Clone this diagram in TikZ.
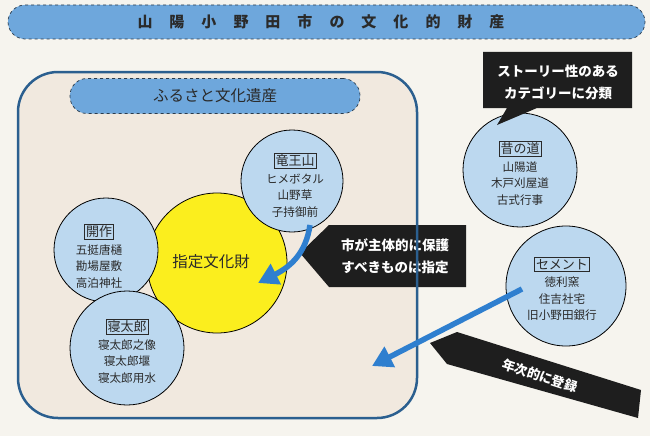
\documentclass[tikz,border=0pt]{standalone}
\usepackage{fontspec}
\setmainfont{Noto Sans CJK JP}
\usetikzlibrary{arrows.meta}
\definecolor{paper}{HTML}{F6F4EE}
\definecolor{boxfill}{HTML}{F1E9DF}
\definecolor{boxline}{HTML}{2B5F8F}
\definecolor{banner}{HTML}{6EA7DC}
\definecolor{bannerline}{HTML}{2A3B4C}
\definecolor{circfill}{HTML}{BCD8EF}
\definecolor{yel}{HTML}{FBEE1E}
\definecolor{callout}{HTML}{1E1E1E}
\definecolor{arrowblue}{HTML}{2F7FCF}
\definecolor{ink}{HTML}{2A2A2A}
\tikzset{
  bannerbox/.style={draw=bannerline, dashed, line width=0.7pt, fill=banner, rounded corners=17pt, inner sep=0pt},
  circ/.style={circle, draw=black, line width=0.8pt, fill=circfill, inner sep=0pt},
  circtext/.style={align=center, text=ink, font=\fontsize{11.6}{16.5}\selectfont, inner sep=0pt},
  calloutshape/.style={fill=callout},
  callouttext/.style={align=center, text=white, font=\bfseries\fontsize{13.5}{22}\selectfont, inner sep=0pt},
  barrow/.style={draw=arrowblue, line width=5.5pt, -{Triangle[length=20pt,width=22pt]}},
}
\newcommand{\hdrbox}[1]{\tikz[baseline=(h.base)]\node[draw=ink, line width=0.6pt, inner sep=1.5pt, font=\fontsize{13}{14}\selectfont] (h) {#1};}
\begin{document}
\begin{tikzpicture}[x=1pt,y=-1pt]
\useasboundingbox (0,0) rectangle (650,436);
\fill[paper] (0,0) rectangle (650,436);
% title
\node[bannerbox, minimum width=637pt, minimum height=34pt] (title) at (326.5,22) {};
\node[text=ink, font=\bfseries\fontsize{15}{16}\selectfont] (titletext) at (321,22)
  {山\hspace{17pt}陽\hspace{17pt}小\hspace{17pt}野\hspace{17pt}田\hspace{17pt}市\hspace{17pt}の\hspace{17pt}文\hspace{17pt}化\hspace{17pt}的\hspace{17pt}財\hspace{17pt}産};
% main box
\path[fill=boxfill, rounded corners=40pt] (18,72) rectangle (417,418);
\node[bannerbox, minimum width=290pt, minimum height=35pt] (sub) at (215,96) {};
\node[text=ink, font=\fontsize{15.5}{16}\selectfont] (subtext) at (215,96) {ふるさと文化遺産};
% yellow circle
\node[circle, draw=black, line width=0.8pt, fill=yel, minimum size=140pt] (yc) at (217,263) {};
\node[text=ink, font=\fontsize{15.5}{16}\selectfont] (yctext) at (211,262) {指定文化財};
% blue circles inside
\node[circ, minimum size=104pt] (kai) at (106,250) {};
\node[circtext] (kait) at (99,256) {\hdrbox{開作}\\[1pt]五挺唐樋\\勘場屋敷\\高泊神社};
\node[circ, minimum size=114pt] (net) at (127,348) {};
\node[circtext] (nett) at (127,351) {\hdrbox{寝太郎}\\[1pt]寝太郎之像\\寝太郎堰\\寝太郎用水};
\node[circ, minimum size=102pt] (ryu) at (292,181) {};
\node[circtext] (ryut) at (295,185) {\hdrbox{竜王山}\\[1pt]ヒメボタル\\山野草\\子持御前};
% callout 2
\fill[calloutshape] (300,253) -- (329,225) -- (466,225) -- (466,287) -- (329,287) -- cycle;
\node[callouttext] (c2t) at (395,256) {市が主体的に保護\\すべきものは指定};
% main box border
\draw[boxline, line width=2.5pt, rounded corners=40pt] (18,72) rectangle (417,418);
% right circles
\node[circ, minimum size=114pt] (muk) at (520,170) {};
\node[circtext] (mukt) at (520,173) {\hdrbox{昔の道}\\[1pt]山陽道\\木戸刈屋道\\古式行事};
\node[circ, minimum size=120pt] (cem) at (566,286) {};
\node[circtext] (cemt) at (562,289) {\hdrbox{セメント}\\[1pt]徳利窯\\住吉社宅\\旧小野田銀行};
% callout 1
\fill[calloutshape] (483,52) -- (632,52) -- (632,108) -- (537,108) -- (497,125) -- (507,108) -- (483,108) -- cycle;
\node[callouttext] (c1t) at (558,82) {ストーリー性のある\\カテゴリーに分類};
% callout 3 ribbon
\fill[calloutshape] (430,343) -- (457,332) -- (641,390) -- (638,418) -- (447,364) -- cycle;
\node[callouttext, rotate=-18, font=\bfseries\fontsize{13}{15}\selectfont] (c3t) at (540,376) {年次的に登録};
% arrows
\path (ryu.center) ++(18,44) coordinate (a1s);
\coordinate (a1e) at (258,283);
\path (cem.center) ++(-44,3) coordinate (a2s);
\coordinate (a2e) at (372,366);
\draw[barrow] (a1s) .. controls (306,252) and (292,266) .. (a1e);
\draw[barrow] (a2s) -- (a2e);
\end{tikzpicture}
\end{document}
